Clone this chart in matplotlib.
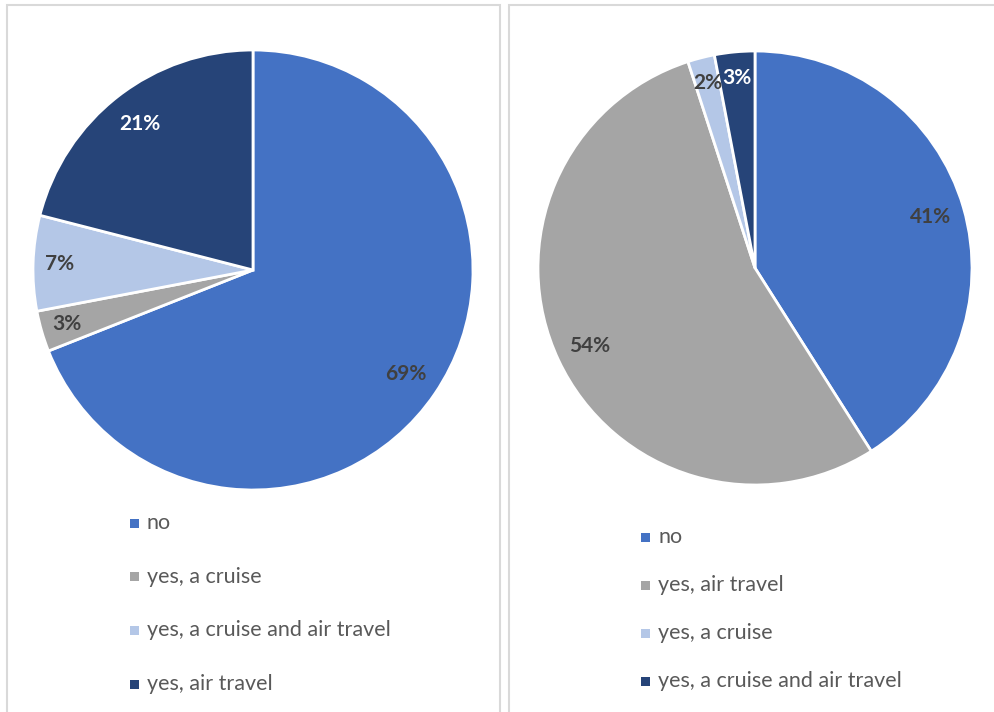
import matplotlib.pyplot as plt
from matplotlib.patches import Rectangle

plt.rcParams['font.family'] = ['Lato', 'DejaVu Sans']

# --- Data ---
left_labels = ['no', 'yes, a cruise', 'yes, a cruise and air travel', 'yes, air travel']
left_values = [69, 3, 7, 21]
right_labels = ['no', 'yes, air travel', 'yes, a cruise', 'yes, a cruise and air travel']
right_values = [41, 54, 2, 3]

BLUE = '#4472C4'
GRAY = '#A5A5A5'
LIGHT = '#B4C7E7'
NAVY = '#264478'
left_colors = [BLUE, GRAY, LIGHT, NAVY]
right_colors = [BLUE, GRAY, LIGHT, NAVY]

W, H = 994, 712
fig = plt.figure(figsize=(W / 100, H / 100), dpi=100)
fig.patch.set_facecolor('white')

# --- Panel frames ---
for x0, x1 in [(7, 500), (509, 998)]:
    fig.add_artist(Rectangle((x0 / W, -0.05), (x1 - x0) / W, (H - 5) / H + 0.05,
                             transform=fig.transFigure, facecolor='none',
                             edgecolor='#D9D9D9', linewidth=1.5))


def draw_pie(cx, cy, r, values, colors, labels, pctdist, leg_x, leg_y, leg_gap):
    ax = fig.add_axes([(cx - r) / W, (H - cy - r) / H, 2 * r / W, 2 * r / H])
    wedges, texts, autotexts = ax.pie(
        values, colors=colors, startangle=90, counterclock=False,
        autopct='%d%%', pctdistance=pctdist, radius=1,
        wedgeprops=dict(edgecolor='white', linewidth=2),
        textprops=dict(fontsize=15, fontweight='bold', color='#404040'))
    for t, c, v in zip(autotexts, colors, values):
        if c == NAVY:
            t.set_color('white')
        # push labels of thin slices a bit closer to the rim
        if v < 10:
            x, y = t.get_position()
            t.set_position((x * 0.88 / pctdist, y * 0.88 / pctdist))
    ax.set_xlim(-1, 1)
    ax.set_ylim(-1, 1)
    ax.set_aspect('equal')
    ax.axis('off')

    # legend entries stacked underneath the pie
    for i, (lab, col) in enumerate(zip(labels, colors)):
        y = leg_y + i * leg_gap
        fig.add_artist(Rectangle(((leg_x - 4.5) / W, (H - y - 4.5) / H), 9 / W, 9 / H,
                                 transform=fig.transFigure, facecolor=col,
                                 edgecolor='none'))
        fig.text((leg_x + 13) / W, (H - y) / H, lab, fontsize=15.5, color='#595959',
                 ha='left', va='center')
    return ax


draw_pie(253, 270, 220, left_values, left_colors, left_labels, 0.84, 134, 523, 53.7)
draw_pie(755, 268, 217, right_values, right_colors, right_labels, 0.84, 645, 537, 48)

fig.savefig('out.png', dpi=100)
